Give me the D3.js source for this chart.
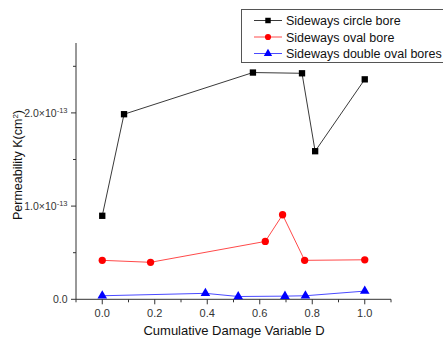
<!DOCTYPE html>
<html>
<head>
<meta charset="utf-8">
<script src="https://d3js.org/d3.v7.min.js"></script>
<style>
  html, body { margin: 0; padding: 0; background: #fff; }
  svg { display: block; font-family: "Liberation Sans", Arial, sans-serif; }
</style>
</head>
<body>
<svg id="chart" width="443" height="339"></svg>
<script>
// Permeability (units of 1e-13 cm^2) against cumulative damage variable D
const circleD = [0.0, 0.083, 0.574, 0.761, 0.811, 1.0];
const circleK = [0.896, 1.986, 2.433, 2.425, 1.589, 2.36];
const ovalD = [0.0, 0.184, 0.621, 0.687, 0.771, 1.0];
const ovalK = [0.418, 0.397, 0.621, 0.907, 0.418, 0.424];
const doubleD = [0.0, 0.393, 0.518, 0.696, 0.774, 1.0];
const doubleK = [0.038, 0.064, 0.03, 0.034, 0.038, 0.088];

const seriesNames = ["Sideways circle bore", "Sideways oval bore", "Sideways double oval bores"];
const xTicks = [0.0, 0.2, 0.4, 0.6, 0.8, 1.0];
const yTicks = [0.0, 1.0, 2.0];

const svg = d3.select("#chart");
const x = d3.scaleLinear().domain([-0.1, 1.1]).range([76, 391]);
const y = d3.scaleLinear().domain([0, 2.75]).range([299.3, 43]);

const axisColor = "#333";

// Y axis
const yAxis = svg.append("g").attr("transform", "translate(76,0)");
yAxis.append("line").attr("x1", 0).attr("x2", 0).attr("y1", y(0)).attr("y2", y(2.75))
  .attr("stroke", axisColor).attr("stroke-width", 1);
[0.5, 1.5, 2.5].forEach(v => {
  yAxis.append("line").attr("x1", -3).attr("x2", 0).attr("y1", y(v)).attr("y2", y(v))
    .attr("stroke", axisColor);
});
yTicks.forEach(v => {
  yAxis.append("line").attr("x1", -5).attr("x2", 0).attr("y1", y(v)).attr("y2", y(v))
    .attr("stroke", axisColor);
  const t = yAxis.append("text").attr("x", -8.5).attr("y", y(v) + 4)
    .attr("text-anchor", "end").attr("font-size", 10.5).attr("fill", "#333");
  if (v === 0) {
    t.text("0.0");
  } else {
    t.append("tspan").text(v.toFixed(1) + "×10");
    t.append("tspan").attr("dy", -4).attr("font-size", 7.5).text("-13");
  }
});

// X axis
const xAxis = svg.append("g").attr("transform", `translate(0,${y(0)})`);
xAxis.append("line").attr("x1", x(-0.1)).attr("x2", x(1.1)).attr("y1", 0).attr("y2", 0)
  .attr("stroke", axisColor);
[-0.1, 0.1, 0.3, 0.5, 0.7, 0.9, 1.1].forEach(v => {
  xAxis.append("line").attr("x1", x(v)).attr("x2", x(v)).attr("y1", 0).attr("y2", 3)
    .attr("stroke", axisColor);
});
xTicks.forEach(v => {
  xAxis.append("line").attr("x1", x(v)).attr("x2", x(v)).attr("y1", 0).attr("y2", 5)
    .attr("stroke", axisColor);
  xAxis.append("text").attr("x", x(v)).attr("y", 18).attr("text-anchor", "middle")
    .attr("font-size", 11).attr("fill", "#333").text(v.toFixed(1));
});

// Axis titles
svg.append("text").attr("x", 234).attr("y", 335).attr("text-anchor", "middle")
  .attr("font-size", 13).attr("fill", "#111").text("Cumulative Damage Variable D");
const yt = svg.append("text").attr("transform", "translate(22,165) rotate(-90)")
  .attr("text-anchor", "middle").attr("font-size", 12.5).attr("fill", "#111");
yt.append("tspan").text("Permeability K(cm");
yt.append("tspan").attr("dy", -4).attr("font-size", 8).text("2");
yt.append("tspan").attr("dy", 4).text(")");

// Series
const series = [
  { d: circleD, k: circleK, line: "#3a3a3a", fill: "#000", shape: "square" },
  { d: ovalD, k: ovalK, line: "#ff4a4a", fill: "#ff0000", shape: "circle" },
  { d: doubleD, k: doubleK, line: "#4a4aff", fill: "#0000ff", shape: "triangle" }
];
const symbolOf = s => s === "square" ? d3.symbol(d3.symbolSquare, 40)
  : s === "circle" ? d3.symbol(d3.symbolCircle, 42) : d3.symbol(d3.symbolTriangle, 40);

const lineGen = d3.line().x(p => x(p[0])).y(p => y(p[1]));
series.forEach(s => {
  const pts = s.d.map((dv, i) => [dv, s.k[i]]);
  svg.append("path").attr("d", lineGen(pts)).attr("fill", "none")
    .attr("stroke", s.line).attr("stroke-width", 1);
  svg.selectAll(null).data(pts).enter().append("path")
    .attr("d", symbolOf(s.shape)())
    .attr("transform", p => `translate(${x(p[0])},${y(p[1])})`)
    .attr("fill", s.fill);
});

// Legend
const lg = svg.append("g");
lg.append("rect").attr("x", 241.5).attr("y", 9.5).attr("width", 220).attr("height", 53)
  .attr("fill", "#fff").attr("stroke", "#555").attr("stroke-width", 1);
series.forEach((s, i) => {
  const yy = 20.5 + i * 16.5;
  lg.append("line").attr("x1", 254).attr("x2", 282).attr("y1", yy).attr("y2", yy)
    .attr("stroke", s.line);
  lg.append("path").attr("d", symbolOf(s.shape).size(30)())
    .attr("transform", `translate(268,${yy})`).attr("fill", s.fill);
  lg.append("text").attr("x", 286).attr("y", yy + 4.5).attr("font-size", 12.5)
    .attr("fill", "#111").text(seriesNames[i]);
});
</script>
</body>
</html>
